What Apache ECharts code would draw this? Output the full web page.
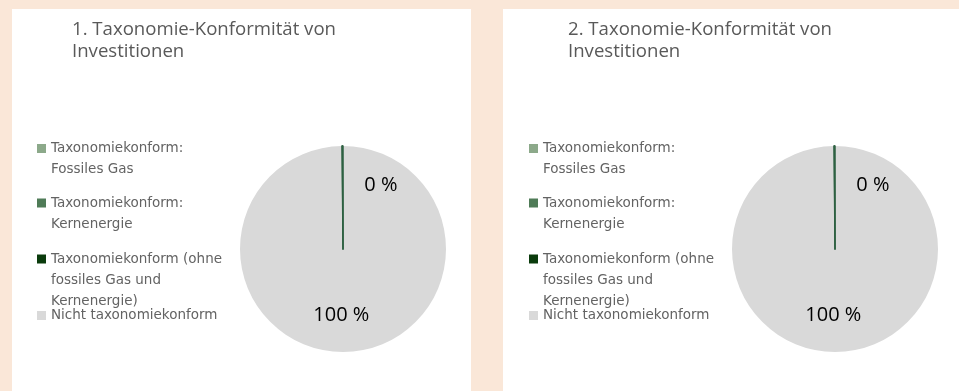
<!DOCTYPE html>
<html>
<head>
<meta charset="utf-8">
<script src="https://cdn.jsdelivr.net/npm/echarts@6/dist/echarts.min.js"></script>
<style>
  html, body { margin: 0; padding: 0; background: #FAE7D8; }
  #chart { width: 959px; height: 391px; }
</style>
</head>
<body>
<div id="chart"></div>
<script>
// Chart titles
const titles = ['1. Taxonomie-Konformität von\nInvestitionen', '2. Taxonomie-Konformität von\nInvestitionen'];

// Categories (legend entries) and the text shown for each
const categories = [
  'Taxonomiekonform: Fossiles Gas',
  'Taxonomiekonform: Kernenergie',
  'Taxonomiekonform (ohne fossiles Gas und Kernenergie)',
  'Nicht taxonomiekonform'
];
const legendLabels = [
  'Taxonomiekonform:\nFossiles Gas',
  'Taxonomiekonform:\nKernenergie',
  'Taxonomiekonform (ohne\nfossiles Gas und\nKernenergie)',
  'Nicht taxonomiekonform'
];

// Shares in percent, one array per pie
const values1 = [0, 0, 0, 100];
const values2 = [0, 0, 0, 100];

const colors = ['#8CA98A', '#4F7B57', '#0A3B0C', '#D9D9D9'];
const zeroEdge = '#2E6142';

const TITLE_FONT = '"Open Sans", "Liberation Sans", sans-serif';
const LEGEND_FONT = '"DejaVu Sans", sans-serif';
const LH = 21; // legend line height

// Panel geometry
const panels = [
  { x: 12, w: 459, cx: 343, titleLeft: 72, legendLeft: 37 },
  { x: 503, w: 456, cx: 835, titleLeft: 568, legendLeft: 529 }
];
const cy = 249;
const radius = 103;
// vertical centre of each legend marker (aligned with the entry's first line)
const markerCenters = [148.5, 203, 259, 315.5];

const chart = echarts.init(document.getElementById('chart'));

const graphic = panels.map(p => ({
  type: 'rect', left: p.x, top: 9, z: -10,
  shape: { width: p.w, height: 382 },
  style: { fill: '#FFFFFF' }
}));

const title = panels.map((p, i) => ({
  text: titles[i], left: p.titleLeft, top: 19, padding: 0,
  textStyle: { fontFamily: TITLE_FONT, fontSize: 18.6, fontWeight: 'normal', color: '#595959', lineHeight: 22 }
}));

// One legend per entry so every marker sits next to the first line of its text.
// Leading blank lines keep the marker level with that first line.
const legend = [];
panels.forEach(p => {
  categories.forEach((name, ci) => {
    const lines = legendLabels[ci].split('\n').length;
    const blockLines = 2 * lines - 1;
    legend.push({
      data: [{ name, itemStyle: { color: colors[ci], borderWidth: 0 } }],
      left: p.legendLeft,
      top: markerCenters[ci] - blockLines * LH / 2,
      padding: 0,
      orient: 'vertical',
      itemWidth: 9, itemHeight: 9, itemGap: 0,
      icon: 'rect',
      selectedMode: false,
      itemStyle: { borderWidth: 0 },
      formatter: () => '\n'.repeat(lines - 1) + legendLabels[ci],
      textStyle: { fontFamily: LEGEND_FONT, fontSize: 13.5, color: '#636363', lineHeight: LH }
    });
  });
});

function buildSeries(values, p) {
  const items = categories.map((name, i) => ({
    name,
    value: values[i],
    itemStyle: values[i] === 0
      ? { color: zeroEdge, borderColor: zeroEdge, borderWidth: 1.3 }
      : { color: colors[i], borderWidth: 0 },
    label: { show: i >= 2 }
  }));
  // larger slices first, so the outlines of the empty slices are drawn on top
  const data = items.slice().sort((a, b) => b.value - a.value);
  return {
    type: 'pie',
    center: [p.cx, cy],
    radius: radius,
    startAngle: 90,
    clockwise: true,
    minAngle: 0.2,
    silent: true,
    percentPrecision: 0,
    avoidLabelOverlap: false,
    data,
    label: {
      position: 'inside',
      formatter: '{d} %',
      fontFamily: TITLE_FONT,
      fontSize: 20,
      color: '#000000'
    },
    labelLine: { show: false },
    labelLayout: params => data[params.dataIndex].value === 0 ? { dx: 38, dy: -9.5 } : { dx: -2, dy: 12 }
  };
}

chart.setOption({
  animation: false,
  color: colors,
  graphic,
  title,
  legend,
  series: [buildSeries(values1, panels[0]), buildSeries(values2, panels[1])]
});
</script>
</body>
</html>
